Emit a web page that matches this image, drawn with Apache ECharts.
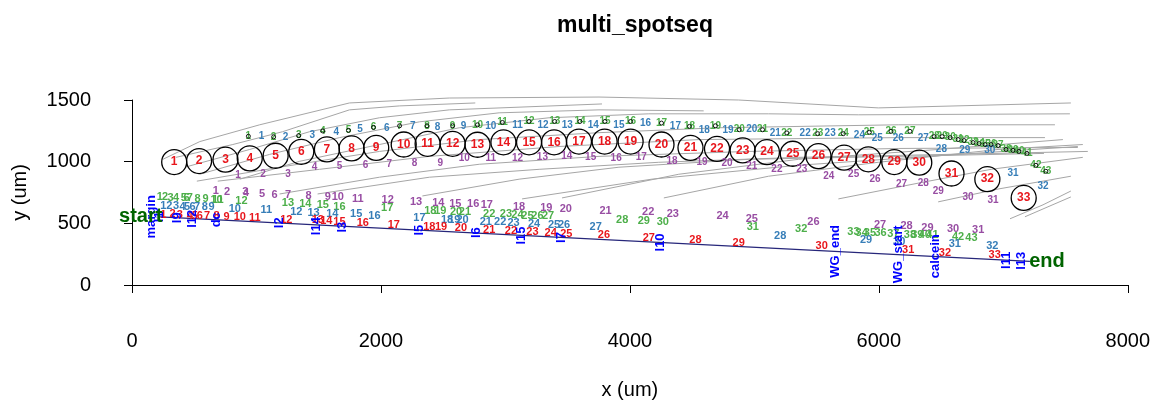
<!DOCTYPE html>
<html>
<head>
<meta charset="utf-8">
<title>multi_spotseq</title>
<script src="https://cdn.jsdelivr.net/npm/echarts@6/dist/echarts.min.js"></script>
<style>
html, body { margin: 0; padding: 0; background: #fff; }
#main { width: 1153px; height: 401px; }
</style>
</head>
<body>
<div id="main"></div>
<script>
// big spots (circles) in um
var spotX = [339,539,751,946,1154,1360,1566,1764,1962,2183,2375,2576,2776,2984,3190,3391,3591,3797,4006,4254,4487,4700,4906,5101,5309,5515,5721,5916,6124,6325,6584,6872,7164];
var spotY = [997,1005,1016,1027,1048,1080,1099,1107,1112,1139,1145,1145,1137,1157,1157,1157,1163,1163,1163,1139,1112,1104,1091,1077,1064,1045,1032,1019,997,992,904,858,706];

// upper small labels
var upGreenX = [935,1138,1339,1533,1739,1940,2150,2370,2576,2776,2976,3190,3396,3599,3800,4006,4254,4479,4687,4879,5066,5261,5509,5715,5924,6098,6250,6445,6509,6573,6637,6685,6757,6806,6854,6902,6958,7022,7078,7126,7190,7262,7342];
var upGreenY = [1206,1201,1211,1249,1254,1278,1291,1291,1291,1299,1318,1326,1326,1326,1326,1326,1313,1286,1291,1259,1259,1233,1227,1227,1238,1246,1246,1203,1203,1195,1179,1171,1155,1147,1139,1139,1131,1099,1091,1083,1067,970,922];
var upBlueX = [1040,1234,1449,1641,1833,2047,2255,2455,2664,2883,3097,3303,3497,3706,3912,4126,4366,4598,4788,4980,5168,5408,5609,5844,5988,6157,6357,6503,6691,6891,7078,7319];
var upBlueY = [1206,1201,1217,1241,1259,1270,1291,1278,1286,1286,1299,1294,1299,1299,1299,1313,1286,1251,1254,1259,1233,1233,1233,1215,1187,1193,1193,1104,1091,1091,904,804];
var upPurpleX = [852,1053,1253,1467,1667,1876,2068,2269,2477,2669,2883,3097,3297,3493,3685,3890,4092,4339,4580,4780,4980,5181,5381,5598,5798,5969,6183,6357,6477,6717,6918];
var upPurpleY = [890,898,898,952,960,971,979,987,987,1027,1027,1027,1032,1045,1032,1027,1032,1005,997,987,960,938,938,885,898,858,818,826,764,711,684];

// lower labels along the baseline
var lowRedX = [251,326,385,465,505,545,604,679,759,866,986,1240,1493,1561,1667,1854,2103,2389,2483,2643,2870,3044,3217,3364,3489,3792,4152,4527,4874,5541,6236,6531,6931];
var lowRedY = [564,578,564,559,559,559,559,559,551,551,545,529,524,519,511,503,484,471,471,465,444,439,431,423,417,403,385,363,342,318,283,257,243];
var lowBlueX = [251,299,353,406,443,487,523,585,639,826,1080,1320,1459,1609,1801,1948,2309,2531,2589,2656,2843,2958,3065,3230,3391,3471,3725,5208,5897,6164,6611,6912];
var lowBlueY = [644,644,644,631,631,631,636,631,631,618,612,591,583,578,575,559,543,529,529,529,511,511,503,492,484,489,471,395,363,351,331,315];
var lowGreenX = [224,265,310,353,417,438,465,527,591,679,689,879,1253,1392,1533,1667,2050,2397,2477,2603,2675,2870,3004,3097,3177,3257,3343,3938,4112,4265,4988,5376,5796,5862,5929,6014,6116,6250,6309,6370,6431,6637,6744];
var lowGreenY = [711,711,706,706,706,706,706,698,698,690,690,679,666,658,652,636,626,599,599,591,591,572,572,564,559,559,559,524,519,511,471,452,431,423,423,423,417,409,409,403,403,391,385];
var lowPurpleX = [673,764,911,916,1044,1146,1253,1419,1574,1654,1814,2054,2282,2461,2597,2741,2851,3110,3329,3485,3805,4147,4345,4745,4980,5475,6010,6223,6391,6597,6798];
var lowPurpleY = [760,752,752,746,738,730,730,724,711,711,698,690,671,663,658,658,650,631,626,618,604,591,572,556,537,514,484,476,465,457,449];

// landmark names on the baseline
var markNames = ['margin','l1','l9','l12','dc','l2','l14','l3','l5','l6','l15','l7','l10','WG_end','WG_start','calcein','l11','l13'];
var markX = [160,224,361,489,681,1186,1483,1692,2309,2766,3126,3447,4248,5651,6156,6453,7022,7142];
var markY = [553,553,545,537,529,505,477,469,445,425,401,385,345,273,249,233,201,197];

var baseX = [224,7214];
var baseY = [553,192];
var startPt = [70,553];
var endPt = [7351,193];

// gray tracks
var tracks = [
  [[248,1019],[545,1163],[1026,1299],[1747,1476],[2549,1516],[3752,1524],[4874,1500],[5996,1436],[7543,1476]],
  [[353,1035],[810,1139],[1210,1243],[1747,1420],[2148,1452],[2758,1476]],
  [[425,955],[946,1099],[1427,1243],[1988,1356],[2549,1420],[3776,1468]],
  [[545,898],[1106,1059],[1667,1195],[2309,1323],[2950,1396],[3752,1420],[4593,1412]],
  [[866,858],[1347,1003],[1988,1139],[2629,1275],[3351,1356],[4152,1388],[5114,1388],[5836,1380],[7535,1388]],
  [[521,842],[1186,955],[1988,1083],[2790,1179],[3752,1235],[4713,1275],[6156,1299],[7415,1299]],
  [[689,842],[1507,938],[2389,1043],[3431,1123],[4553,1179],[6156,1195],[7335,1195]],
  [[1186,738],[1988,874],[2790,979],[3752,1043],[4954,1083],[6156,1107],[7599,1115]],
  [[1491,738],[2389,874],[3271,938],[4232,995],[5355,1035],[6557,1059],[7679,1083]],
  [[2333,722],[3110,858],[3912,955],[4954,1019],[6156,1043],[7327,1067]],
  [[3134,698],[4176,858],[5355,971],[6637,1059],[7599,1123]],
  [[3455,706],[4393,898],[5355,1019],[6477,1099],[7479,1179]],
  [[4273,706],[5114,882],[5996,995],[6958,1099],[7639,1139]],
  [[5675,698],[6317,826],[6902,938],[7639,1035]],
  [[6477,674],[6958,778],[7543,882]],
  [[7054,537],[7319,650],[7543,762]],
  [[7174,553],[7359,634],[7543,714]]
];

var FONT = 'Liberation Sans, Arial, sans-serif';

function pts(xs, ys) {
  return xs.map(function (x, i) { return [x, ys[i], i + 1]; });
}

// text-only scatter (symbol invisible, label fully opaque)
function labelSeries(xs, ys, color, size) {
  return {
    type: 'scatter', data: pts(xs, ys), symbol: 'circle', symbolSize: 1,
    itemStyle: { color: 'rgba(0,0,0,0)', opacity: 1 }, clip: false, silent: true, z: 5,
    label: { show: true, position: 'inside', opacity: 1, formatter: function (p) { return p.data[2]; },
      color: color, fontSize: size, fontWeight: 'bold', fontFamily: FONT }
  };
}

var series = [];
tracks.forEach(function (t) {
  series.push({ type: 'line', data: t, showSymbol: false, clip: false, silent: true, z: 1,
    lineStyle: { color: '#a6a6a6', width: 1 } });
});
series.push({ type: 'line', data: pts(baseX, baseY), showSymbol: false, clip: false, silent: true, z: 2,
  lineStyle: { color: '#26267a', width: 1.2 } });

// spots
series.push({
  type: 'scatter', data: pts(spotX, spotY), symbol: 'circle', symbolSize: 25, clip: false, silent: true, z: 3,
  itemStyle: { color: 'rgba(255,255,255,0)', borderColor: '#000', borderWidth: 1.3, opacity: 1 },
  label: { show: true, position: 'inside', opacity: 1, formatter: function (p) { return p.data[2]; },
    color: '#e8161c', fontSize: 12, fontWeight: 'bold', fontFamily: FONT }
});
// endpoint markers
series.push({
  type: 'scatter', data: pts(upGreenX, upGreenY), symbol: 'circle', symbolSize: 4, clip: false, silent: true, z: 6,
  itemStyle: { color: 'rgba(255,255,255,0)', borderColor: '#000', borderWidth: 0.9, opacity: 1 }
});

series.push(labelSeries(upGreenX, upGreenY, '#4daf4a', 10));
series.push(labelSeries(upBlueX, upBlueY, '#377eb8', 10));
series.push(labelSeries(upPurpleX, upPurpleY, '#984ea3', 10));
series.push(labelSeries(lowPurpleX, lowPurpleY, '#984ea3', 11));
series.push(labelSeries(lowGreenX, lowGreenY, '#4daf4a', 11));
series.push(labelSeries(lowBlueX, lowBlueY, '#377eb8', 11));
series.push(labelSeries(lowRedX, lowRedY, '#e8161c', 11));

// landmarks, rotated
series.push({
  type: 'scatter', symbol: 'circle', symbolSize: 1, clip: false, silent: true, z: 7,
  itemStyle: { color: 'rgba(0,0,0,0)', opacity: 1 },
  data: markX.map(function (x, i) { return [x, markY[i], markNames[i]]; }),
  label: { show: true, position: 'inside', rotate: 90, opacity: 1, formatter: function (p) { return p.data[2]; },
    color: '#0000ff', fontSize: 13, fontWeight: 'bold', fontFamily: FONT }
});
// start / end
series.push({
  type: 'scatter', symbol: 'circle', symbolSize: 1, clip: false, silent: true, z: 8,
  itemStyle: { color: 'rgba(0,0,0,0)', opacity: 1 },
  data: [[startPt[0], startPt[1], 'start'], [endPt[0], endPt[1], 'end']],
  label: { show: true, position: 'inside', opacity: 1, formatter: function (p) { return p.data[2]; },
    color: '#006400', fontSize: 20, fontWeight: 'bold', fontFamily: FONT }
});

var myChart = echarts.init(document.getElementById('main'), null, { renderer: 'canvas' });
var option = {
  backgroundColor: '#fff',
  animation: false,
  title: {
    text: 'multi_spotseq', left: 630, top: 9, textAlign: 'center',
    textStyle: { fontSize: 23, fontWeight: 'bold', color: '#000', fontFamily: FONT }
  },
  grid: { left: 132, right: 23, top: 100, bottom: 114 },
  xAxis: {
    type: 'value', min: 0, max: 8000, interval: 2000, offset: 24,
    axisLine: { show: true, lineStyle: { color: '#000', width: 1 } },
    axisTick: { show: true, length: 8, lineStyle: { color: '#000' } },
    axisLabel: { margin: 22, fontSize: 20, color: '#000', fontFamily: FONT,
      formatter: function (v) { return String(v); } },
    splitLine: { show: false },
    name: 'x (um)', nameLocation: 'middle', nameGap: 71,
    nameTextStyle: { fontSize: 20, color: '#000', fontFamily: FONT }
  },
  yAxis: {
    type: 'value', min: 0, max: 1500, interval: 500, offset: 30,
    axisLine: { show: true, lineStyle: { color: '#000', width: 1 } },
    axisTick: { show: true, length: 8, lineStyle: { color: '#000' } },
    axisLabel: { margin: 11, fontSize: 20, color: '#000', fontFamily: FONT,
      formatter: function (v) { return String(v); } },
    splitLine: { show: false },
    name: 'y (um)', nameLocation: 'middle', nameGap: 72,
    nameTextStyle: { fontSize: 20, color: '#000', fontFamily: FONT }
  },
  series: series
};
myChart.setOption(option);
</script>
</body>
</html>
